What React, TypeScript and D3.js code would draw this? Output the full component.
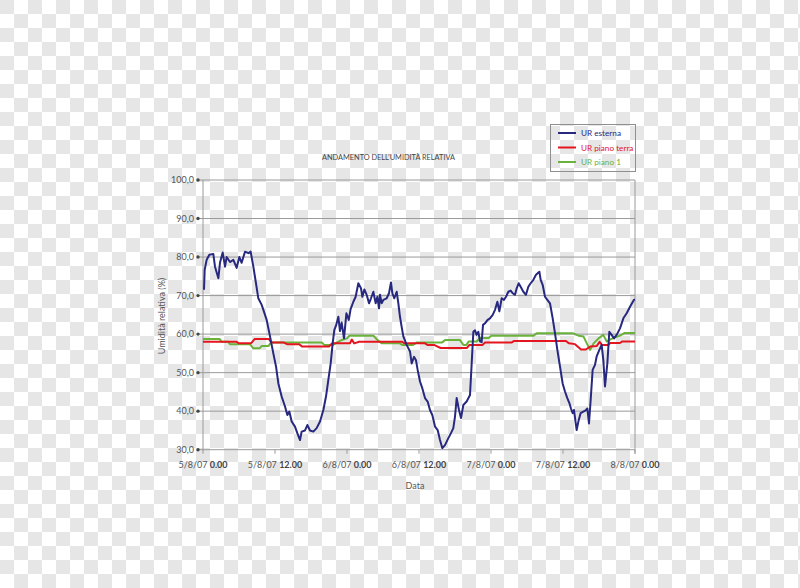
import React from "react";
import * as d3 from "d3";

// ---- data (hours from 5/8/07 0.00, relative humidity %) ----
const esternaOre = [0.17,0.28,0.61,1.06,1.72,2.0,2.56,2.83,3.28,3.67,3.94,4.5,5.06,5.61,6.06,6.44,7,7.56,7.94,8.39,8.83,9.22,9.78,10.06,10.61,11.17,11.72,12.17,12.56,13.11,13.67,14.06,14.39,14.78,15.33,15.72,16.17,16.44,17,17.39,17.83,18.39,18.94,19.5,20.06,20.5,20.89,21.28,21.61,21.89,22.17,22.56,22.83,23.11,23.5,23.9,24.3,24.6,25.06,25.44,25.89,26.33,26.56,26.89,27.28,27.67,28,28.39,28.78,29.06,29.33,29.5,29.78,30.06,30.61,31,31.33,31.56,31.89,32.28,32.56,32.83,33.11,33.39,33.94,34.5,34.78,35.17,35.5,35.78,36.17,36.56,37,37.44,37.83,38.22,38.67,39.11,39.5,39.89,40.33,40.89,41.33,41.72,42,42.28,42.67,43,43.39,43.94,44.5,44.78,45.06,45.33,45.61,45.89,46.17,46.44,46.67,47,47.44,47.83,48.28,48.67,49.06,49.39,49.78,50.17,50.5,50.89,51.28,51.61,52,52.28,52.61,52.94,53.39,53.83,54.22,54.61,55.06,55.5,55.78,56.06,56.28,56.61,57,57.39,57.83,58.28,58.67,59.06,59.5,59.94,60.33,60.72,61.06,61.33,61.61,61.83,62.28,62.56,62.94,63.39,63.83,64.06,64.33,64.61,64.94,65.33,65.61,66.06,66.44,66.72,67,67.39,67.72,68.11,68.5,68.94,69.5,70.06,70.61,71.17,71.83,72];
const esternaUR = [71.5,76.7,79.3,80.6,80.8,77.5,74.5,78.5,81.2,77.5,80,78.7,79.3,77.2,80,78.5,81.4,81,81.4,77.5,73.2,69.3,67.6,66.3,63.7,59.4,55,51.6,47.2,43.8,41.2,39,39.9,37.3,36,34.3,32.5,34.7,35,36.4,35,34.7,35.6,37.3,40.3,43.8,48.1,52.4,57.6,61.1,62.2,64.5,60.8,63,58.9,65.4,63.7,66.5,68.4,69.7,73.2,71.9,69.7,71.6,70.2,68,69.3,71,68,69.7,66.7,70.2,68,68.9,69.3,70.6,73.4,70.6,69.3,71,68,64.5,61.9,59.4,57.2,55.5,52.4,54.1,53.2,50.7,47.7,45.9,43.4,42.5,40.3,39,36,35.1,32.5,30.4,31.2,33,34.3,35.6,38.6,43.4,40.3,38.2,41.6,42.5,44.2,52.4,60.6,61,59.8,60.6,58.1,57.9,62.4,62.8,63.7,64.1,65,66.3,68.4,65.9,69.3,68.9,69.7,71,71.3,70.6,70.2,71.9,73.2,72.3,71,70.2,72.3,73.2,74.1,75.4,75.8,76.2,74.1,72.8,69.7,68.9,68,64.1,60.2,55.9,51.6,47.2,45.1,43.4,42.1,40.7,39.5,40.3,35.1,37.3,39.5,39.9,40.3,40.7,36.8,42.9,50.7,52,54.2,55.9,57.2,53.3,46.4,52.4,60.6,59.8,58.9,59.8,61.5,64.1,65.4,67.1,68.9,69];

const pianoTerraOre = [0,5.6,6.0,8.0,8.6,11.0,11.4,13.5,14.0,16.0,16.5,21.0,21.5,24.5,24.8,25.2,25.6,26.0,33.2,33.6,37.0,37.4,38.5,39.6,44.0,44.4,46.6,47.0,51.4,51.8,60.5,61.0,62.0,63.0,63.8,64.6,65.6,66.1,66.5,67.5,67.9,69.5,69.9,72];
const pianoTerraUR = [58.0,58.0,57.6,57.6,58.7,58.7,57.8,57.8,57.4,57.4,56.8,56.8,57.6,57.6,58.6,57.6,57.8,58.0,58.0,57.6,57.6,57.2,57.2,56.4,56.4,57.2,57.2,57.8,57.8,58.2,58.2,57.6,57.4,56.0,56.0,56.8,56.9,58.0,57.2,57.2,57.7,57.7,58.1,58.1];

const piano1Ore = [0,2.8,3.1,4.2,4.5,7.8,8.4,9.4,9.8,10.9,11.4,11.7,19.8,20.2,21.7,22.3,23.0,24.0,24.4,28.4,29.0,29.8,32.8,33.2,35.0,35.6,39.8,40.4,42.8,43.4,43.9,44.3,45.6,46.2,47.6,48.1,55.1,55.6,61.7,62.6,63.4,64.5,65.1,66.0,66.7,67.3,68.4,69.5,70.3,72];
const piano1UR = [58.7,58.7,58.0,58.0,57.4,57.4,56.3,56.3,56.9,56.9,58.0,57.8,57.8,57.2,57.2,57.8,58.4,58.9,59.6,59.6,58.6,57.6,57.6,57.2,57.2,57.8,57.8,58.5,58.5,57.2,57.2,58.1,58.1,59.0,59.0,59.6,59.6,60.2,60.2,59.6,59.4,55.9,57.6,59.0,59.8,58.1,59.0,59.6,60.3,60.3];

const yTicks = [30, 40, 50, 60, 70, 80, 90, 100];
const xTickOre = [0, 12, 24, 36, 48, 60, 72];
const xTickDate = ["5/8/07", "5/8/07", "6/8/07", "6/8/07", "7/8/07", "7/8/07", "8/8/07"];
const xTickTime = ["0.00", "12.00", "0.00", "12.00", "0.00", "12.00", "0.00"];

const seriesNames = ["UR esterna", "UR piano terra", "UR piano 1"];
const seriesColors = ["#27287f", "#e3151f", "#69b33a"];

const FONT = "Lato, 'Open Sans', sans-serif";

export default function App() {
  const x = d3.scaleLinear().domain([0, 72]).range([203, 635]);
  const y = d3.scaleLinear().domain([30, 100]).range([449.7, 180]);

  const line = d3
    .line<[number, number]>()
    .x((d) => x(d[0]))
    .y((d) => y(d[1]));

  const zip = (a: number[], b: number[]) => a.map((t, i) => [t, b[i]] as [number, number]);
  const series = [
    zip(esternaOre, esternaUR),
    zip(pianoTerraOre, pianoTerraUR),
    zip(piano1Ore, piano1UR),
  ];
  const drawOrder = [2, 1, 0];

  // checkerboard background cells
  const cell = 14;
  const cols = d3.range(Math.ceil(800 / cell));
  const rows = d3.range(Math.ceil(588 / cell));
  const cells: [number, number][] = [];
  rows.forEach((r) => cols.forEach((c) => { if ((r + c) % 2 === 0) cells.push([c, r]); }));

  return (
    <svg
      width={800}
      height={588}
      style={{ position: "absolute", left: 0, top: 0, display: "block" }}
      fontFamily={FONT}
    >
      <rect width={800} height={588} fill="#ffffff" />
      <g>
        {cells.map(([c, r]) => (
          <rect key={c + "_" + r} x={c * cell} y={r * cell} width={cell} height={cell} fill="#e6e6e6" />
        ))}
      </g>

      {/* title */}
      <text
        x={388.5}
        y={160}
        textAnchor="middle"
        fontSize={8.4}
        fill="#444"
        textLength={133}
        lengthAdjust="spacingAndGlyphs"
      >
        ANDAMENTO DELL’UMIDITÀ RELATIVA
      </text>

      {/* gridlines */}
      {yTicks.map((v) => (
        <line key={v} x1={203} x2={635} y1={y(v)} y2={y(v)} stroke="#9a9a9a" strokeWidth={1} />
      ))}
      <line x1={203} x2={203} y1={y(100)} y2={y(30) + 1} stroke="#9a9a9a" strokeWidth={1} />
      <line x1={635} x2={635} y1={y(100)} y2={y(30) + 4} stroke="#9a9a9a" strokeWidth={1} />

      {/* y ticks */}
      {yTicks.map((v) => (
        <g key={"yt" + v}>
          <line x1={198} x2={203} y1={y(v)} y2={y(v)} stroke="#9a9a9a" strokeWidth={1} />
          <circle cx={198} cy={y(v)} r={1.7} fill="#444" />
          <text x={194} y={y(v) + 3.2} textAnchor="end" fontSize={9} fill="#555">
            {d3.format(".1f")(v).replace(".", ",")}
          </text>
        </g>
      ))}

      {/* x ticks */}
      {xTickOre.map((t, i) => (
        <g key={"xt" + t}>
          <line x1={x(t)} x2={x(t)} y1={y(30)} y2={y(30) + 4} stroke="#9a9a9a" strokeWidth={1} />
          <text x={x(t)} y={468} textAnchor="middle" fontSize={9} fill="#555">
            {xTickDate[i] + " "}
            <tspan fontWeight="bold" fill="#444">{xTickTime[i]}</tspan>
          </text>
        </g>
      ))}

      {/* axis titles */}
      <text x={415} y={489} textAnchor="middle" fontSize={9} fill="#555">
        Data
      </text>
      <text
        transform={`translate(165,316) rotate(-90)`}
        textAnchor="middle"
        fontSize={9}
        fill="#555"
      >
        Umidità relativa (%)
      </text>

      {/* series */}
      {drawOrder.map((k) => (
        <path
          key={"s" + k}
          d={line(series[k]) || ""}
          fill="none"
          stroke={seriesColors[k]}
          strokeWidth={2}
          strokeLinejoin="round"
        />
      ))}

      {/* legend */}
      <rect x={550.5} y={124.5} width={85} height={47} fill="none" stroke="#8f8f8f" strokeWidth={1} />
      {seriesNames.map((n, i) => (
        <g key={n}>
          <line
            x1={558}
            x2={576}
            y1={133 + i * 14.5}
            y2={133 + i * 14.5}
            stroke={seriesColors[i]}
            strokeWidth={2}
          />
          <text x={581} y={136 + i * 14.5} fontSize={8.2} fill={seriesColors[i]}>
            {n}
          </text>
        </g>
      ))}
    </svg>
  );
}
